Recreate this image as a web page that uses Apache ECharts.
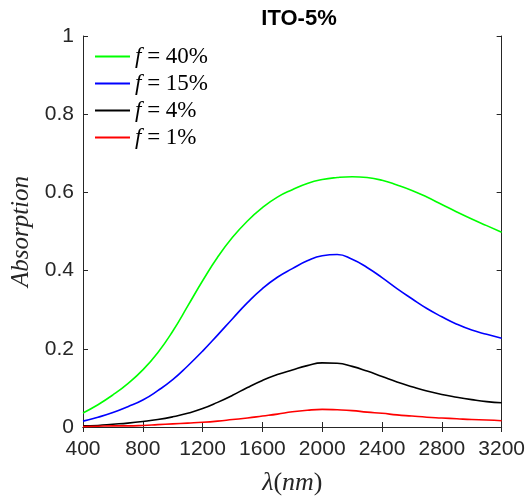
<!DOCTYPE html>
<html>
<head>
<meta charset="utf-8">
<script src="https://cdn.jsdelivr.net/npm/echarts@6/dist/echarts.min.js"></script>
<style>
html,body{margin:0;padding:0;background:#fff;}
#chart{width:528px;height:501px;}
</style>
</head>
<body>
<div id="chart"></div>
<script>
const chartTitle = 'ITO-5%';
const wavelengths = [400, 500, 600, 700, 800, 900, 1000, 1100, 1200, 1300, 1400, 1500, 1600, 1700, 1800,
  1900, 2000, 2100, 2200, 2300, 2400, 2500, 2600, 2700, 2800, 2900, 3000, 3100, 3200];
const seriesNames = ['f = 40%', 'f = 15%', 'f = 4%', 'f = 1%'];
const seriesColors = ['#00ff00', '#0000ff', '#000000', '#ff0000'];
const green40 = [0.036, 0.057, 0.082, 0.111, 0.146, 0.190, 0.245, 0.309, 0.374, 0.434, 0.485, 0.527, 0.561, 0.588, 0.607,
  0.623, 0.633, 0.638, 0.640, 0.638, 0.631, 0.619, 0.605, 0.588, 0.569, 0.550, 0.532, 0.515, 0.498];
const blue15 = [0.015, 0.025, 0.037, 0.052, 0.069, 0.093, 0.121, 0.156, 0.194, 0.235, 0.277, 0.318, 0.354, 0.383, 0.405,
  0.425, 0.438, 0.441, 0.429, 0.408, 0.382, 0.354, 0.328, 0.303, 0.282, 0.263, 0.248, 0.237, 0.227];
const black4 = [0.003, 0.004, 0.007, 0.010, 0.014, 0.019, 0.026, 0.035, 0.047, 0.063, 0.081, 0.101, 0.119, 0.134, 0.146,
  0.157, 0.164, 0.163, 0.155, 0.143, 0.129, 0.115, 0.103, 0.092, 0.083, 0.076, 0.070, 0.065, 0.062];
const red1 = [0.001, 0.002, 0.003, 0.003, 0.004, 0.006, 0.008, 0.010, 0.012, 0.015, 0.019, 0.023, 0.028, 0.033, 0.039,
  0.043, 0.045, 0.044, 0.042, 0.038, 0.035, 0.031, 0.028, 0.025, 0.023, 0.021, 0.019, 0.018, 0.016];
const allValues = [green40, blue15, black4, red1];

const axisColor = '#262626';
const labelFont = {fontFamily: 'Liberation Sans', fontSize: 21, color: axisColor};

const chart = echarts.init(document.getElementById('chart'), null, {renderer: 'canvas'});

const series = allValues.map((vals, k) => ({
  name: seriesNames[k],
  type: 'line',
  data: wavelengths.map((w, i) => [w, vals[i]]),
  smooth: 0.5,
  symbol: 'none',
  lineStyle: {color: seriesColors[k], width: 1.6},
  itemStyle: {color: seriesColors[k]},
  xAxisIndex: 0, yAxisIndex: 0
}));

chart.setOption({
  backgroundColor: '#fff',
  animation: false,
  title: {
    text: chartTitle,
    left: 294, top: 3,
    textAlign: 'center',
    textStyle: {fontFamily: 'Liberation Sans', fontWeight: 'bold', fontSize: 22, color: '#000'}
  },
  grid: {left: 83, right: 23, top: 36, bottom: 67, containLabel: false},
  legend: {
    orient: 'vertical',
    left: 90, top: 40,
    icon: 'rect',
    itemWidth: 35, itemHeight: 2,
    itemGap: 4,
    data: seriesNames,
    formatter: name => '{i|f}{n|' + name.slice(1) + '}',
    textStyle: {
      fontFamily: 'Liberation Serif', fontSize: 23, color: '#000', lineHeight: 23,
      rich: {
        i: {fontFamily: 'Liberation Serif', fontStyle: 'italic', fontSize: 23, lineHeight: 23},
        n: {fontFamily: 'Liberation Serif', fontSize: 23, lineHeight: 23}
      }
    }
  },
  xAxis: [{
    type: 'value', min: 400, max: 3200, interval: 400, position: 'bottom',
    name: '{i|λ}({i|nm})', nameLocation: 'middle', nameGap: 43,
    nameTextStyle: {fontFamily: 'Liberation Serif', fontSize: 26, color: axisColor,
      rich: {i: {fontFamily: 'Liberation Serif', fontStyle: 'italic', fontSize: 26, color: axisColor}}},
    axisLine: {show: true, lineStyle: {color: axisColor, width: 1}},
    axisTick: {show: true, inside: true, length: 5, lineStyle: {color: axisColor}},
    axisLabel: Object.assign({margin: 12, formatter: v => String(v)}, labelFont),
    splitLine: {show: false}
  }, {
    type: 'value', min: 400, max: 3200, interval: 400, position: 'top',
    axisLine: {show: true, lineStyle: {color: axisColor, width: 1}},
    axisTick: {show: true, inside: true, length: 5, lineStyle: {color: axisColor}},
    axisLabel: {show: false},
    splitLine: {show: false}
  }],
  yAxis: [{
    type: 'value', min: 0, max: 1, interval: 0.2, position: 'left',
    name: 'Absorption', nameLocation: 'middle', nameGap: 49, nameRotate: 90,
    nameTextStyle: {fontFamily: 'Liberation Serif', fontStyle: 'italic', fontSize: 25, color: axisColor},
    axisLine: {show: true, lineStyle: {color: axisColor, width: 1}},
    axisTick: {show: true, inside: true, length: 5, lineStyle: {color: axisColor}},
    axisLabel: Object.assign({margin: 9}, labelFont),
    splitLine: {show: false}
  }, {
    type: 'value', min: 0, max: 1, interval: 0.2, position: 'right',
    axisLine: {show: true, lineStyle: {color: axisColor, width: 1}},
    axisTick: {show: true, inside: true, length: 5, lineStyle: {color: axisColor}},
    axisLabel: {show: false},
    splitLine: {show: false}
  }],
  series: series
});
</script>
</body>
</html>
